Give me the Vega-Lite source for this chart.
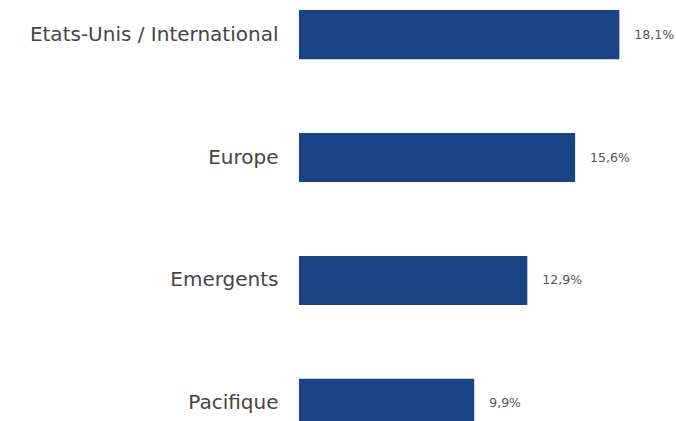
{
  "$schema": "https://vega.github.io/schema/vega-lite/v6.json",
  "autosize": "none",
  "padding": {"left": 299, "top": 0, "right": 23, "bottom": 0},
  "width": 354,
  "height": 438,
  "background": "white",
  "data": {"values": [
    {"region": "Etats-Unis / International", "value": 18.1, "label": "18,1%"},
    {"region": "Europe", "value": 15.6, "label": "15,6%"},
    {"region": "Emergents", "value": 12.9, "label": "12,9%"},
    {"region": "Pacifique", "value": 9.9, "label": "9,9%"}
  ]},
  "encoding": {
    "y": {"field": "region", "type": "nominal", "sort": null,
      "scale": {"paddingInner": 0.6, "paddingOuter": 0.081},
      "axis": {"title": null, "domain": false, "ticks": false, "labelPadding": 21,
        "labelFont": "DejaVu Sans", "labelFontSize": 20, "labelColor": "#454545", "labelLimit": 400}},
    "x": {"field": "value", "type": "quantitative", "scale": {"domain": [0, 20]}, "axis": null}
  },
  "layer": [
    {"mark": {"type": "bar", "color": "#1b4486"}},
    {"mark": {"type": "text", "align": "left", "dx": 15, "font": "DejaVu Sans", "fontSize": 12.5, "color": "#555555"},
      "encoding": {"text": {"field": "label"}}}
  ],
  "config": {"view": {"stroke": null}}
}
